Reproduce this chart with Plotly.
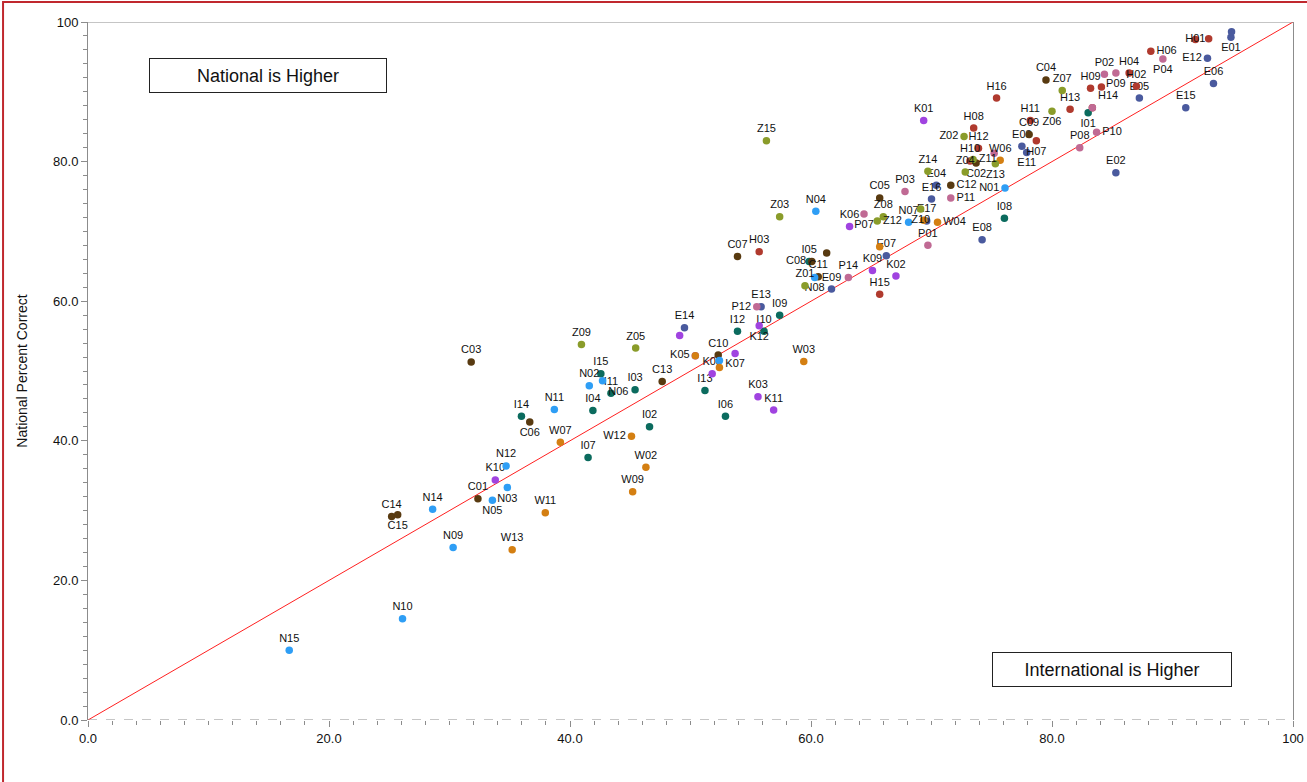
import plotly.graph_objects as go

# Percent correct per item: x = international sample, y = national sample.
# Items are grouped by content area (first letter of the item code).
# An empty label means the item is plotted without a caption.

E_items = ["E01", "", "E02", "E03", "E04", "E05", "E06", "E07", "E08", "E09",
           "E11", "E12", "E13", "E14", "E15", "E16", "E17"]
E_intl = [94.85, 94.9, 85.3, 77.5, 70.4, 87.25, 93.4, 66.25, 74.2, 61.7,
          77.9, 92.9, 55.86, 49.5, 91.1, 70.0, 69.6]
E_natl = [97.8, 98.6, 78.4, 82.2, 76.6, 89.1, 91.2, 66.5, 68.8, 61.75,
          81.3, 94.8, 59.2, 56.2, 87.7, 74.65, 71.5]

H_items = ["H01", "", "H02", "H03", "H04", "", "H06", "H07", "H08", "H09",
           "H10", "H11", "H12", "H13", "H14", "H15", "H16"]
H_intl = [91.9, 93.0, 87.0, 55.7, 86.4, 84.1, 88.2, 78.7, 73.5, 83.2,
          73.2, 78.2, 73.9, 81.5, 83.35, 65.7, 75.4]
H_natl = [97.5, 97.6, 90.8, 67.1, 92.7, 90.7, 95.8, 83.0, 84.8, 90.5,
          80.1, 85.9, 81.9, 87.5, 87.7, 61.0, 89.1]

I_items = ["I01", "I02", "I03", "I04", "I05", "I06", "I07", "I08", "I09", "I10",
           "I11", "I12", "I13", "I14", "I15"]
I_intl = [83.0, 46.6, 45.4, 41.9, 59.85, 52.9, 41.5, 76.05, 57.4, 56.1,
          43.4, 53.9, 51.2, 35.97, 42.56]
I_natl = [87.0, 42.0, 47.3, 44.35, 65.7, 43.5, 37.6, 71.9, 58.0, 55.7,
          46.8, 55.7, 47.2, 43.5, 49.6]

C_items = ["C01", "C02", "C03", "C04", "C05", "C06", "C07", "C08", "C09", "C10",
           "C11", "C12", "C13", "C14", "C15", ""]
C_intl = [32.36, 73.7, 31.8, 79.5, 65.7, 36.66, 53.9, 60.07, 78.1, 52.3,
          60.6, 71.6, 47.65, 25.2, 25.7, 61.3]
C_natl = [31.7, 79.8, 51.3, 91.7, 74.8, 42.7, 66.4, 65.7, 83.9, 52.3,
          63.5, 76.6, 48.5, 29.15, 29.4, 66.9]

K_items = ["K01", "K02", "K03", "", "K05", "K06", "K07", "K08", "K09", "K10",
           "K11", "K12"]
K_intl = [69.35, 67.05, 55.6, 49.1, 50.4, 63.2, 53.7, 51.8, 65.1, 33.8,
          56.9, 55.7]
K_natl = [85.9, 63.6, 46.3, 55.1, 52.2, 70.7, 52.5, 49.6, 64.4, 34.4,
          44.4, 56.5]

N_items = ["N01", "N02", "N03", "N04", "N05", "N06", "N07", "N08", "N09", "N10",
           "N11", "N12", "", "N14", "N15"]
N_intl = [76.1, 41.6, 34.8, 60.4, 33.56, 42.7, 68.1, 60.3, 30.3, 26.1,
          38.7, 34.7, 52.4, 28.6, 16.7]
N_natl = [76.2, 47.9, 33.3, 72.9, 31.5, 48.6, 71.3, 63.4, 24.7, 14.5,
          44.5, 36.4, 51.5, 30.2, 10.0]

P_items = ["P01", "P02", "P03", "P04", "", "P07", "P08", "P09", "P10", "P11",
           "P12", "", "P14"]
P_intl = [69.7, 84.35, 67.8, 89.2, 75.2, 64.4, 82.3, 85.3, 83.7, 71.6,
          55.5, 83.35, 63.1]
P_natl = [68.0, 92.5, 75.7, 94.7, 81.2, 72.5, 82.0, 92.7, 84.2, 74.8,
          59.2, 87.7, 63.4]

W_items = ["W02", "W03", "W04", "W06", "W07", "W09", "W11", "W12", "W13",
           "", "", "", ""]
W_intl = [46.3, 59.4, 70.5, 75.7, 39.2, 45.2, 37.95, 45.1, 35.2,
          65.7, 69.35, 52.4, 50.4]
W_natl = [36.2, 51.35, 71.3, 80.2, 39.8, 32.7, 29.7, 40.65, 24.4,
          67.8, 71.6, 50.5, 52.2]

Z_items = ["Z01", "Z02", "Z03", "Z04", "Z05", "Z06", "Z07", "Z08", "Z09", "Z10",
           "Z11", "Z12", "Z13", "Z14", "Z15"]
Z_intl = [59.5, 72.7, 57.4, 72.8, 45.45, 80.0, 80.85, 66.0, 40.95, 69.1,
          73.45, 65.5, 75.3, 69.7, 56.3]
Z_natl = [62.2, 83.6, 72.1, 78.5, 53.3, 87.2, 90.2, 72.1, 53.8, 73.2,
          80.3, 71.5, 79.7, 78.6, 83.0]

x_ticks = [0, 20, 40, 60, 80, 100]
x_tick_text = ["0.0", "20.0", "40.0", "60.0", "80.0", "100"]
y_ticks = [0, 20, 40, 60, 80, 100]
y_tick_text = ["0.0", "20.0", "40.0", "60.0", "80.0", "100"]

# Caption placement where the default (above the marker) would collide
label_pos = {
    "E01": "bottom center", "E11": "bottom center", "E12": "middle left",
    "H01": "middle center", "H06": "middle right", "H07": "bottom center",
    "H14": "top right",
    "I01": "bottom center",
    "C02": "bottom center", "C06": "bottom center", "C08": "middle left",
    "C12": "middle right", "C15": "bottom center",
    "K05": "middle left", "K07": "bottom center", "K12": "bottom center",
    "N01": "middle left", "N03": "bottom center", "N05": "bottom center",
    "N06": "bottom right", "N08": "bottom center",
    "P04": "bottom center", "P07": "bottom center", "P09": "bottom center",
    "P10": "middle right", "P11": "middle right", "P12": "middle left",
    "W04": "middle right", "W12": "middle left",
    "Z02": "middle left", "Z06": "bottom center", "Z10": "bottom center",
    "Z11": "middle right", "Z12": "middle right", "Z13": "bottom center",
}

groups = [
    ("E", E_items, E_intl, E_natl, "#4a5a9e"),
    ("H", H_items, H_intl, H_natl, "#b03a2e"),
    ("I", I_items, I_intl, I_natl, "#0b6b5e"),
    ("C", C_items, C_intl, C_natl, "#583a10"),
    ("K", K_items, K_intl, K_natl, "#a043e0"),
    ("N", N_items, N_intl, N_natl, "#2e9ef5"),
    ("P", P_items, P_intl, P_natl, "#c06a94"),
    ("W", W_items, W_intl, W_natl, "#d47f12"),
    ("Z", Z_items, Z_intl, Z_natl, "#8a9c2a"),
]

FONT = "Liberation Sans, Arial, sans-serif"

fig = go.Figure()

# Equal-score reference line
fig.add_trace(go.Scatter(
    x=[0, 100], y=[0, 100], mode="lines",
    line=dict(color="#ff2020", width=1), hoverinfo="skip", showlegend=False,
))

for key, items, xs, ys, color in groups:
    fig.add_trace(go.Scatter(
        x=xs, y=ys, mode="markers+text", name=key,
        text=items,
        textposition=[label_pos.get(t, "top center") for t in items],
        textfont=dict(family=FONT, size=11, color="#111111"),
        marker=dict(size=7.5, color=color, line=dict(width=0)),
        cliponaxis=False, showlegend=False,
    ))

grey = "#8c8c8c"

fig.update_layout(
    width=1307, height=782, autosize=False,
    margin=dict(l=88, r=14, t=22, b=62, autoexpand=False),
    paper_bgcolor="white", plot_bgcolor="white",
    font=dict(family=FONT, size=13, color="#111111"),
    hovermode=False,
    xaxis=dict(
        range=[0, 100], showgrid=False, zeroline=False, showline=False,
        automargin=False,
        tickvals=x_ticks, ticktext=x_tick_text, ticks="outside",
        ticklen=6, tickcolor=grey, tickfont=dict(size=13),
        minor=dict(dtick=2, ticks="outside", ticklen=4, tickcolor=grey),
    ),
    yaxis=dict(
        range=[0, 100], showgrid=False, zeroline=False, automargin=False,
        showline=True, linecolor=grey, linewidth=1, mirror=True,
        tickvals=y_ticks, ticktext=y_tick_text, ticks="outside",
        ticklen=6, tickcolor=grey, tickfont=dict(size=13),
        minor=dict(dtick=2, ticks="outside", ticklen=4, tickcolor=grey),
        title=dict(text="National Percent Correct", font=dict(size=14), standoff=22),
    ),
    shapes=[
        # top edge of the plotting area
        dict(type="line", xref="x", yref="y", x0=0, x1=100, y0=100, y1=100,
             line=dict(color=grey, width=1)),
        # dashed baseline
        dict(type="line", xref="x", yref="y", x0=0, x1=100, y0=0, y1=0,
             line=dict(color=grey, width=1, dash="dash")),
        # outer frame
        dict(type="rect", xref="paper", yref="paper",
             x0=-0.0705, x1=1.02, y0=-0.1, y1=1.0287,
             line=dict(color="#c0282e", width=2), layer="below"),
    ],
    annotations=[
        dict(x=14.96, y=92.4, xref="x", yref="y", text="National is Higher",
             showarrow=False, width=234, height=31, bordercolor="#222222",
             borderwidth=1, bgcolor="white", font=dict(size=18)),
        dict(x=85.0, y=7.3, xref="x", yref="y", text="International is Higher",
             showarrow=False, width=236, height=31, bordercolor="#222222",
             borderwidth=1, bgcolor="white", font=dict(size=18)),
    ],
)

fig.write_html("out.html")
